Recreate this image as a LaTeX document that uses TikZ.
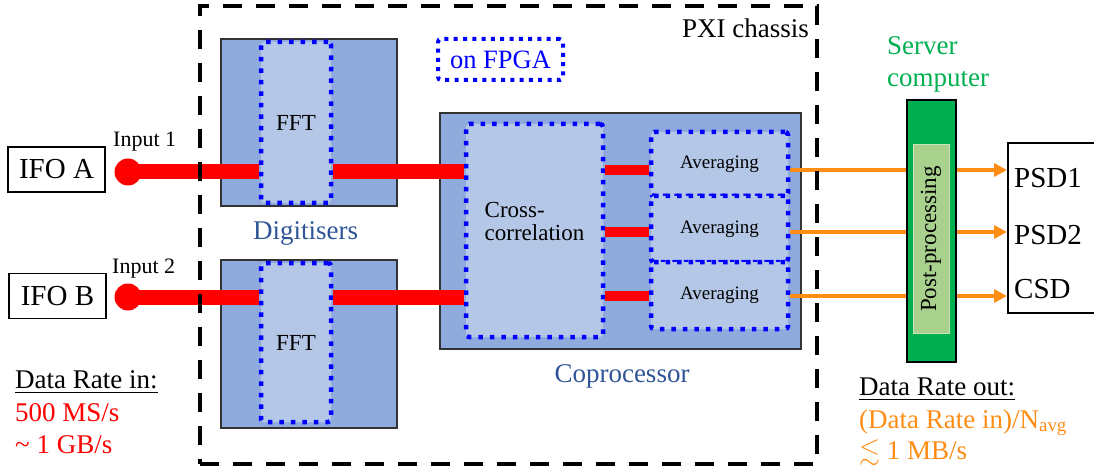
\documentclass[tikz,border=0pt]{standalone}
\usepackage{fontspec}
\setmainfont{Liberation Serif}
\usepackage{amsmath,amssymb}
\usetikzlibrary{positioning, arrows.meta}
\definecolor{digblue}{RGB}{143,170,220}
\definecolor{paleblue}{RGB}{180,199,231}
\definecolor{fpgablue}{RGB}{0,0,255}
\definecolor{labelblue}{RGB}{47,85,151}
\definecolor{srvgreen}{RGB}{0,176,80}
\definecolor{palegreen}{RGB}{169,209,142}
\definecolor{outorange}{RGB}{255,140,20}
\newcommand{\pxfont}[1]{\fontsize{#1pt}{#1pt}\selectfont}

\begin{document}
\begin{tikzpicture}[x=1pt, y=-1pt,
    hwbox/.style={draw=black!80, line width=1.5pt, fill=digblue, inner sep=0pt},
    fpga/.style={draw=fpgablue, line width=4.5pt, dash pattern=on 4.5pt off 7pt,
      fill=paleblue, rounded corners=3pt, inner sep=0pt},
    lbl/.style={font=\pxfont{27}, inner sep=0pt},
    ifo/.style={draw, line width=1.5pt, minimum width=97pt, minimum height=45pt,
      inner sep=0pt, font=\pxfont{29}},
    inport/.style={circle, fill=red, minimum size=27pt, inner sep=0pt},
    redbar/.style={red, line width=15pt},
    redlink/.style={red, line width=10pt},
    outlink/.style={outorange, line width=4.5pt},
    outarrow/.style={outorange, line width=4.5pt, -{Triangle[length=13pt, width=13pt]}},
    chassis/.style={draw, line width=4.5pt, dash pattern=on 19pt off 14pt, inner sep=0pt},
  ]
    \useasboundingbox (0,0) rectangle (1094,470);

    % digitisers
    \node[hwbox, minimum width=176pt, minimum height=167pt] (dig1) at (309,122.5) {};
    \node[hwbox, minimum width=176pt, minimum height=168pt] (dig2) at (309,344) {};
    \node[fpga, minimum width=70pt, minimum height=161pt, font=\pxfont{23}] (fft1) at (296,122.5) {FFT};
    \node[fpga, minimum width=70pt, minimum height=159pt, font=\pxfont{23}] (fft2) at (296,342.5) {FFT};
    \node[lbl, text=labelblue, anchor=base] (diglabel) at (305.5,240) {Digitisers};

    % coprocessor
    \node[hwbox, minimum width=361pt, minimum height=236pt] (copro) at (620.5,231) {};
    \node[fpga, minimum width=137pt, minimum height=213pt] (xcorr) at (534.5,230.5) {};
    \node[font=\pxfont{23}, align=left, inner sep=0pt] (xcorrlabel) at ([yshift=9pt]xcorr.center)
      {\baselineskip=26pt Cross-\\correlation};
    \node[fpga, minimum width=137pt, minimum height=64pt, font=\pxfont{19}] (avg1) at (719.5,164) {Averaging};
    \node[fpga, minimum width=137pt, minimum height=66pt, font=\pxfont{19}] (avg2) at (719.5,229) {Averaging};
    \node[fpga, minimum width=137pt, minimum height=67pt, font=\pxfont{19}] (avg3) at (719.5,295.5) {Averaging};
    \node[lbl, text=labelblue, anchor=base] (coprolabel) at (622,382) {Coprocessor};

    \node[fpga, fill=none, line width=4pt, dash pattern=on 4pt off 5.3pt,
      minimum width=125pt, minimum height=41pt, text=fpgablue, font=\pxfont{26.5}] (fpgakey) at (500.5,59.5) {on FPGA};
    \node[lbl, anchor=base west] (pxilabel) at (682,38) {PXI chassis};

    % inputs
    \node[ifo] (ifoA) at (56.5,169.5) {IFO A};
    \node[ifo] (ifoB) at (57.5,296) {IFO B};
    \node[inport] (in1) at (128,172) {};
    \node[inport] (in2) at (128,297) {};
    \node[font=\pxfont{22}, inner sep=0pt, anchor=base west] (in1label) at (113,147) {Input 1};
    \node[font=\pxfont{22}, inner sep=0pt, anchor=base west] (in2label) at (112,273) {Input 2};

    \draw[redbar] (in1.center) -- (fft1.west |- in1.center);
    \draw[redbar] (fft1.east |- in1.center) -- (xcorr.west |- in1.center);
    \draw[redbar] (in2.center) -- (fft2.west |- in2.center);
    \draw[redbar] (fft2.east |- in2.center) -- (xcorr.west |- in2.center);

    \coordinate (row1) at (0,170);
    \coordinate (row2) at (0,232);
    \coordinate (row3) at (0,296);
    \draw[redlink] (xcorr.east |- row1) -- (avg1.west |- row1);
    \draw[redlink] (xcorr.east |- row2) -- (avg2.west |- row2);
    \draw[redlink] (xcorr.east |- row3) -- (avg3.west |- row3);

    % server computer
    \node[draw, line width=1.5pt, fill=srvgreen, minimum width=49pt, minimum height=262pt] (server) at (931.5,231) {};
    \node[draw=palegreen!60!white, line width=1pt, fill=palegreen, rotate=90, inner sep=0pt,
      minimum width=188pt, minimum height=36pt, font=\pxfont{23}] (post) at (931,239) {Post-processing};
    \node[lbl, text=srvgreen, anchor=base west] (srvlabel) at (887,55) {Server};
    \node[lbl, text=srvgreen, anchor=base west] (srvlabel2) at (887,87) {computer};

    \node[draw, line width=1.5pt, minimum width=120pt, minimum height=170pt, anchor=west] (psd) at (1007,228) {};
    \node[font=\pxfont{29}, inner sep=0pt, anchor=base west] (psd1) at (1014,188) {PSD1};
    \node[font=\pxfont{29}, inner sep=0pt, anchor=base west] (psd2) at (1014,245) {PSD2};
    \node[font=\pxfont{29}, inner sep=0pt, anchor=base west] (csd) at (1014,298) {CSD};

    \draw[outlink] (avg1.east |- row1) -- (server.west |- row1);
    \draw[outlink] (avg2.east |- row2) -- (server.west |- row2);
    \draw[outlink] (avg3.east |- row3) -- (server.west |- row3);
    \draw[outarrow] (server.east |- row1) -- (psd.west |- row1);
    \draw[outarrow] (server.east |- row2) -- (psd.west |- row2);
    \draw[outarrow] (server.east |- row3) -- (psd.west |- row3);

    % data rates
    \node[lbl, anchor=base west] (ratein) at (15,388) {\underline{Data Rate in:}};
    \node[lbl, anchor=base west, text=red] (ratein2) at (15,421) {500 MS/s};
    \node[lbl, anchor=base west, text=red] (ratein3) at (15,453) {\textasciitilde{} 1 GB/s};
    \node[lbl, anchor=base west] (rateout) at (859,395) {\underline{Data Rate out:}};
    \node[lbl, anchor=base west, text=outorange] (rateout2) at (859,428) {(Data Rate in)/N\textsubscript{avg}};
    \node[lbl, anchor=base west, text=outorange] (rateout3) at (859,459) {$\lesssim$ 1 MB/s};

    \node[chassis, minimum width=617pt, minimum height=458pt] (pxi) at (508.5,235) {};
  \end{tikzpicture}
\end{document}
